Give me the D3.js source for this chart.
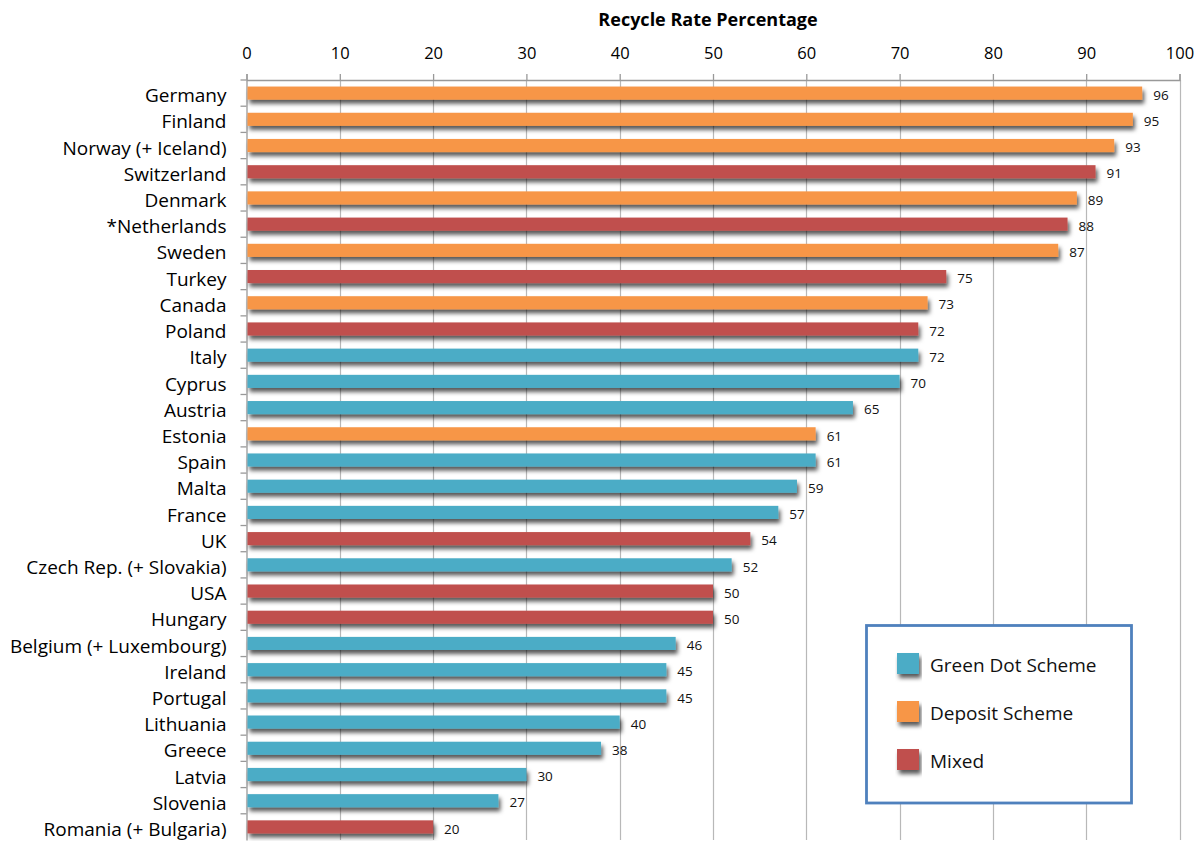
<!DOCTYPE html>
<html><head><meta charset="utf-8">
<script src="https://cdn.jsdelivr.net/npm/d3@7"></script>
<style>
html,body{margin:0;padding:0;background:#fff;}
svg{display:block;}
text{font-family:"Open Sans",sans-serif;}
</style></head>
<body>
<svg id="chart" width="1202" height="841"></svg>
<script>
const countries = ["Germany","Finland","Norway (+ Iceland)","Switzerland","Denmark","*Netherlands","Sweden","Turkey","Canada","Poland","Italy","Cyprus","Austria","Estonia","Spain","Malta","France","UK","Czech Rep. (+ Slovakia)","USA","Hungary","Belgium (+ Luxembourg)","Ireland","Portugal","Lithuania","Greece","Latvia","Slovenia","Romania (+ Bulgaria)"];
const values = [96,95,93,91,89,88,87,75,73,72,72,70,65,61,61,59,57,54,52,50,50,46,45,45,40,38,30,27,20];
const schemes = ["Deposit","Deposit","Deposit","Mixed","Deposit","Mixed","Deposit","Mixed","Deposit","Mixed","Green","Green","Green","Deposit","Green","Green","Green","Mixed","Green","Mixed","Mixed","Green","Green","Green","Green","Green","Green","Green","Mixed"];
const legendKeys = ["Green","Deposit","Mixed"];
const legendLabels = ["Green Dot Scheme","Deposit Scheme","Mixed"];
const xTicks = [0,10,20,30,40,50,60,70,80,90,100];
const titleText = "Recycle Rate Percentage";

const colors = {Green:"#4BACC6", Deposit:"#F79646", Mixed:"#C0504D"};

const svg = d3.select("#chart");
const pLeft = 246.5, pRight = 1179.5, pTop = 80, pBottom = 840;

const defs = svg.append("defs");
const f = defs.append("filter").attr("id","shadow").attr("x","-5%").attr("y","-50%").attr("width","115%").attr("height","250%");
f.append("feDropShadow").attr("dx",2).attr("dy",4).attr("stdDeviation",2.2).attr("flood-color","#000").attr("flood-opacity",0.65);

const x = d3.scaleLinear().domain([0,100]).range([pLeft,pRight]);
const y = d3.scaleBand().domain(countries).range([pTop,pBottom]).paddingInner(0.5).paddingOuter(0.25);
const yb = d3.scaleBand().domain(countries).range([pTop,pBottom]);

// gridlines
svg.append("g").selectAll("line").data(xTicks.slice(1)).join("line")
  .attr("x1",d=>Math.round(x(d))+0.5).attr("x2",d=>Math.round(x(d))+0.5)
  .attr("y1",pTop).attr("y2",pBottom)
  .attr("stroke","#b8b8b8").attr("stroke-width",1.2);

// top axis
const xAxis = d3.axisTop(x).tickValues(xTicks).tickSize(6).tickPadding(15);
const gx = svg.append("g").attr("transform",`translate(0,${pTop})`).call(xAxis);
gx.select(".domain").attr("stroke","#999").attr("stroke-width",1.3);
gx.selectAll(".tick line").attr("stroke","#999").attr("stroke-width",1.3);
gx.selectAll(".tick text").attr("font-size",16.5).attr("fill","#000").attr("font-family","Open Sans");

// left axis
const yAxis = d3.axisLeft(yb).tickSize(0).tickPadding(20);
const gy = svg.append("g").attr("transform",`translate(${pLeft},0)`).call(yAxis);
gy.select(".domain").attr("stroke","#999").attr("stroke-width",1.3);
gy.selectAll(".tick text").attr("font-size",19).attr("fill","#000").attr("font-family","Open Sans").attr("dy","0.48em");
// band boundary ticks
svg.append("g").selectAll("line").data(countries).join("line")
  .attr("x1",pLeft-6).attr("x2",pLeft)
  .attr("y1",d=>yb(d)).attr("y2",d=>yb(d))
  .attr("stroke","#999").attr("stroke-width",1.3);

// bars
svg.append("g").selectAll("rect").data(countries).join("rect")
  .attr("x",x(0)+1).attr("y",d=>y(d))
  .attr("width",(d,i)=>x(values[i])-x(0)-1)
  .attr("height",y.bandwidth())
  .attr("fill",(d,i)=>colors[schemes[i]])
  .attr("filter","url(#shadow)");

// value labels
svg.append("g").selectAll("text").data(countries).join("text")
  .attr("x",(d,i)=>x(values[i])+11)
  .attr("y",d=>y(d)+y.bandwidth()/2+2)
  .attr("dy","0.35em")
  .attr("font-size",13.5)
  .attr("fill","#111")
  .text((d,i)=>values[i]);

// title
svg.append("text").attr("x",708).attr("y",26).attr("text-anchor","middle")
  .attr("font-size",18).attr("font-weight","bold").attr("fill","#000").text(titleText);

// legend
const lg = svg.append("g");
lg.append("rect").attr("x",866.5).attr("y",625.5).attr("width",265).attr("height",177.5)
  .attr("fill","#fff").attr("stroke","#4F81BD").attr("stroke-width",2.8);
const ly = d3.scalePoint().domain(legendKeys).range([664,760]);
lg.selectAll("rect.sw").data(legendKeys).join("rect").attr("class","sw")
  .attr("x",897).attr("y",d=>ly(d)-11).attr("width",22).attr("height",21)
  .attr("fill",d=>colors[d]).attr("filter","url(#shadow)");
lg.selectAll("text").data(legendKeys).join("text")
  .attr("x",930).attr("y",d=>ly(d)+1.5).attr("dy","0.36em")
  .attr("font-size",19).attr("fill","#111")
  .text((d,i)=>legendLabels[i]);
</script>
</body></html>
